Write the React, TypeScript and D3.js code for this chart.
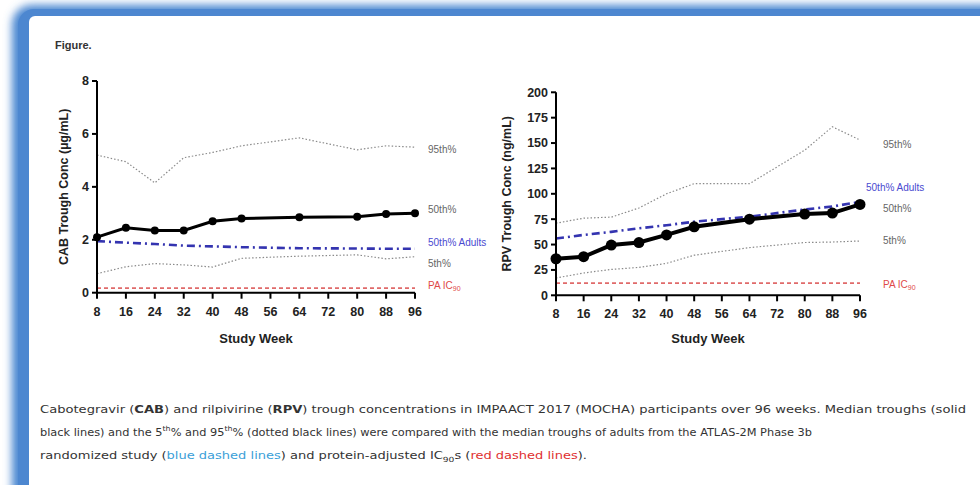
import React from 'react'
import * as d3 from 'd3'

// study weeks with observed troughs
const weeks = [8, 16, 24, 32, 40, 48, 64, 80, 88, 96]
const xTicks = [8, 16, 24, 32, 40, 48, 56, 64, 72, 80, 88, 96]

// CAB (ug/mL)
const cabMedian = [2.1, 2.45, 2.35, 2.35, 2.7, 2.8, 2.85, 2.87, 2.97, 3.0]
const cab95 = [5.2, 4.95, 4.15, 5.1, 5.3, 5.55, 5.85, 5.4, 5.55, 5.5]
const cab5 = [0.72, 0.98, 1.1, 1.05, 0.97, 1.3, 1.38, 1.43, 1.28, 1.36]
const cabAdult = [1.95, 1.89, 1.84, 1.78, 1.75, 1.72, 1.68, 1.67, 1.66, 1.66]
const cabPA = [0.17, 0.17, 0.17, 0.17, 0.17, 0.17, 0.17, 0.17, 0.17, 0.17]
const cabYTicks = [0, 2, 4, 6, 8]

// RPV (ng/mL)
const rpvMedian = [36, 38, 49.5, 52, 59.5, 67.5, 75, 80, 81, 89.5]
const rpv95 = [71, 76, 77, 86, 100, 110, 110, 143, 166, 153]
const rpv5 = [17, 22, 25.5, 27.5, 31.5, 39.5, 47, 52, 52.5, 53.5]
const rpvAdult = [56, 59.5, 62.5, 66, 69, 72.5, 77.5, 84.5, 87.5, 92]
const rpvPA = [12, 12, 12, 12, 12, 12, 12, 12, 12, 12]
const rpvYTicks = [0, 25, 50, 75, 100, 125, 150, 175, 200]

const font = 'Liberation Sans, Arial, sans-serif'

type PanelProps = {
  x0: number; x1: number; yTop: number; yBot: number; yMax: number
  yTicks: number[]; yTitle: string; yTitleX: number
  median: number[]; p95: number[]; p5: number[]; adult: number[]; pa: number[]
  r: number; medW: number
  labels: { t: string; y: number; x: number; c: string; sub?: boolean }[]
}

function Panel(p: PanelProps) {
  const x = d3.scaleLinear().domain([8, 96]).range([p.x0, p.x1])
  const y = d3.scaleLinear().domain([0, p.yMax]).range([p.yBot, p.yTop])
  const line = (vals: number[]) =>
    d3.line<number>().x((_, i) => x(weeks[i])).y(d => y(d))(vals) || ''
  return (
    <g>
      <path d={line(p.p95)} fill="none" stroke="#8a8a8a" strokeWidth={1.2} strokeDasharray="1.5,2" />
      <path d={line(p.p5)} fill="none" stroke="#8a8a8a" strokeWidth={1.2} strokeDasharray="1.5,2" />
      <path d={line(p.pa)} fill="none" stroke="#e06a6a" strokeWidth={1.8} strokeDasharray="4,3" />
      <path d={line(p.adult)} fill="none" stroke="#3434b0" strokeWidth={2.6} strokeDasharray="8,4,2,4" />
      <path d={line(p.median)} fill="none" stroke="#000" strokeWidth={p.medW} />
      {p.median.map((v, i) => (
        <circle key={i} cx={x(weeks[i])} cy={y(v)} r={p.r} fill="#000" />
      ))}
      {/* axes */}
      <line x1={p.x0} x2={p.x0} y1={p.yTop} y2={p.yBot} stroke="#000" strokeWidth={2} />
      <line x1={p.x0} x2={p.x1} y1={p.yBot} y2={p.yBot} stroke="#000" strokeWidth={2} />
      {p.yTicks.map(t => (
        <g key={t}>
          <line x1={p.x0 - 5} x2={p.x0} y1={y(t)} y2={y(t)} stroke="#000" strokeWidth={2} />
          <text x={p.x0 - 8} y={y(t)} dy="0.35em" textAnchor="end" fontSize={12.5} fontWeight="bold" fontFamily={font} fill="#222">{t}</text>
        </g>
      ))}
      {xTicks.map(t => (
        <g key={t}>
          <line x1={x(t)} x2={x(t)} y1={p.yBot} y2={p.yBot + 6} stroke="#000" strokeWidth={2} />
          <text x={x(t)} y={p.yBot + 23} textAnchor="middle" fontSize={12.5} fontWeight="bold" fontFamily={font} fill="#222">{t}</text>
        </g>
      ))}
      <text x={(p.x0 + p.x1) / 2} y={343} textAnchor="middle" fontSize={13} fontWeight="bold" fontFamily={font} fill="#222">Study Week</text>
      <text transform={`translate(${p.yTitleX},${(p.yTop + p.yBot) / 2}) rotate(-90)`} textAnchor="middle" fontSize={12.5} fontWeight="bold" fontFamily={font} fill="#222">{p.yTitle}</text>
      {p.labels.map((l, i) => (
        <text key={i} x={l.x} y={l.y} dy="0.35em" fontSize={10} fontFamily={font} fill={l.c}>
          {l.t}{l.sub ? <tspan fontSize={7} dy="2">90</tspan> : null}
        </text>
      ))}
    </g>
  )
}

export default function App() {
  const grey = '#666'
  return (
    <div style={{ position: 'absolute', left: 0, top: 0 }}>
      <svg width={980} height={485} style={{ display: 'block' }}>
        <defs>
          <filter id="glow" x="-10%" y="-10%" width="120%" height="120%">
            <feGaussianBlur stdDeviation="4" />
          </filter>
        </defs>
        <rect width={980} height={485} fill="#fff" />
        <rect x={12} y={5} width={1100} height={600} rx={20} fill="#4a86d0" filter="url(#glow)" />
        <rect x={18} y={9} width={1100} height={600} rx={16} fill="#4d87d0" />
        <rect x={29} y={16} width={1100} height={600} rx={6} fill="#fff" />

        <text x={55} y={49} fontSize={11} fontWeight="bold" fontFamily={font} fill="#333">Figure.</text>

        <Panel x0={97} x1={415} yTop={81} yBot={292.7} yMax={8} yTicks={cabYTicks}
          yTitle="CAB Trough Conc (µg/mL)" yTitleX={68}
          median={cabMedian} p95={cab95} p5={cab5} adult={cabAdult} pa={cabPA} r={4} medW={3}
          labels={[
            { t: '95th%', x: 428, y: 149, c: grey },
            { t: '50th%', x: 428, y: 209, c: grey },
            { t: '50th% Adults', x: 428, y: 242, c: '#4a4ad0' },
            { t: '5th%', x: 428, y: 263, c: grey },
            { t: 'PA IC', x: 428, y: 285, c: '#e04848', sub: true },
          ]} />

        <Panel x0={556} x1={860} yTop={92.3} yBot={295.3} yMax={200} yTicks={rpvYTicks}
          yTitle="RPV Trough Conc (ng/mL)" yTitleX={511}
          median={rpvMedian} p95={rpv95} p5={rpv5} adult={rpvAdult} pa={rpvPA} r={5.5} medW={4}
          labels={[
            { t: '95th%', x: 883, y: 144, c: grey },
            { t: '50th% Adults', x: 866, y: 187, c: '#4a4ad0' },
            { t: '50th%', x: 883, y: 208, c: grey },
            { t: '5th%', x: 883, y: 240, c: grey },
            { t: 'PA IC', x: 883, y: 284, c: '#e04848', sub: true },
          ]} />

        <g fontFamily="Liberation Sans Narrow, DejaVu Sans Condensed, sans-serif" fontSize={10} fill="#333">
          <text x={40} y={413} textLength={926} lengthAdjust="spacingAndGlyphs">
            Cabotegravir (<tspan fontWeight="bold">CAB</tspan>) and rilpivirine (<tspan fontWeight="bold">RPV</tspan>) trough concentrations in IMPAACT 2017 (MOCHA) participants over 96 weeks. Median troughs (solid
          </text>
          <text x={40} y={436} textLength={772} lengthAdjust="spacingAndGlyphs">
            black lines) and the 5<tspan fontSize={7} dy="-5">th</tspan><tspan dy="5">% and 95</tspan><tspan fontSize={7} dy="-5">th</tspan><tspan dy="5">% (dotted black lines) were compared with the median troughs of adults from the ATLAS-2M Phase 3b</tspan>
          </text>
          <text x={40} y={459} textLength={547} lengthAdjust="spacingAndGlyphs">
            randomized study (<tspan fill="#3aa0d8">blue dashed lines</tspan>) and protein-adjusted IC<tspan fontSize={7} dy="3">90</tspan><tspan dy="-3">s (</tspan><tspan fill="#e03030">red dashed lines</tspan>).
          </text>
        </g>
      </svg>
    </div>
  )
}
